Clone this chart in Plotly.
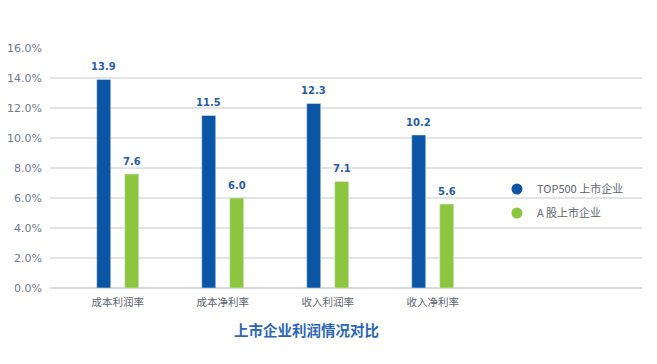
import plotly.graph_objects as go

categories = ["成本利润率", "成本净利率", "收入利润率", "收入净利率"]
top500 = [13.9, 11.5, 12.3, 10.2]
ashare = [7.6, 6.0, 7.1, 5.6]
series_names = ["TOP500 上市企业", "A 股上市企业"]
y_ticks = [0, 2, 4, 6, 8, 10, 12, 14, 16]
y_tick_labels = [f"{v:.1f}%" for v in y_ticks]
title_text = "上市企业利润情况对比"

BLUE = "#0b55a5"
GREEN = "#8cc63e"
LABEL = "#2a5ca8"
CJK = "Noto Sans CJK SC, Microsoft YaHei, sans-serif"
NUM = "DejaVu Sans, Noto Sans CJK SC, sans-serif"

fig = go.Figure()
fig.add_trace(go.Bar(x=categories, y=top500, marker_color=BLUE, showlegend=False))
fig.add_trace(go.Bar(x=categories, y=ashare, marker_color=GREEN, showlegend=False))
for name, col, grp in [(series_names[0], BLUE, "a"), (series_names[1], GREEN, "b")]:
    fig.add_trace(go.Scatter(x=[None], y=[None], mode="markers", name=name,
                             legendgroup=grp,
                             marker=dict(symbol="circle", size=11, color=col)))

annotations = []
for vals, dx in [(top500, -14), (ashare, 14)]:
    for c, v in zip(categories, vals):
        annotations.append(dict(x=c, y=v, xref="x", yref="y", text=f"<b>{v:.1f}</b>",
                                showarrow=False, xshift=dx, yshift=13,
                                xanchor="center", yanchor="middle",
                                font=dict(size=10, color=LABEL, family=NUM)))
annotations.append(dict(text=f"<b>{title_text}</b>", xref="paper", yref="paper",
                        x=(306.7 - 50) / 592, y=-(329 - 288) / 240,
                        xanchor="center", yanchor="middle", showarrow=False,
                        font=dict(size=14.5, color="#2b66b8", family=CJK)))

fig.update_layout(
    width=657, height=364,
    margin=dict(l=50, r=15, t=48, b=76),
    paper_bgcolor="white", plot_bgcolor="white",
    barmode="group", bargap=0.4667, bargroupgap=0.5,
    font=dict(family=CJK, size=11, color="#595959"),
    showlegend=True,
    legend=dict(x=0.755, xanchor="left", y=0.3625, yanchor="middle",
                traceorder="grouped", tracegroupgap=5,
                font=dict(size=11, color="#5d6570", family=CJK),
                bgcolor="rgba(0,0,0,0)"),
    xaxis=dict(type="category", range=[-0.645, 4.993], showgrid=False,
               showline=False, ticks="", ticklabelstandoff=6, automargin=False,
               tickfont=dict(size=10.5, color="#5d6570", family=CJK)),
    yaxis=dict(range=[0, 16], tickvals=y_ticks, ticktext=y_tick_labels,
               showgrid=True, gridcolor="#e3e3e3", gridwidth=1.5,
               zeroline=True, zerolinecolor="#d9d9d9", zerolinewidth=2,
               showline=False, ticks="", ticklabelstandoff=7, automargin=False,
               tickfont=dict(size=11, color="#6e7a8a", family=NUM)),
    annotations=annotations,
)

fig.write_html("out.html", post_script="document.body.style.margin='0';",
               config={"displayModeBar": False})
